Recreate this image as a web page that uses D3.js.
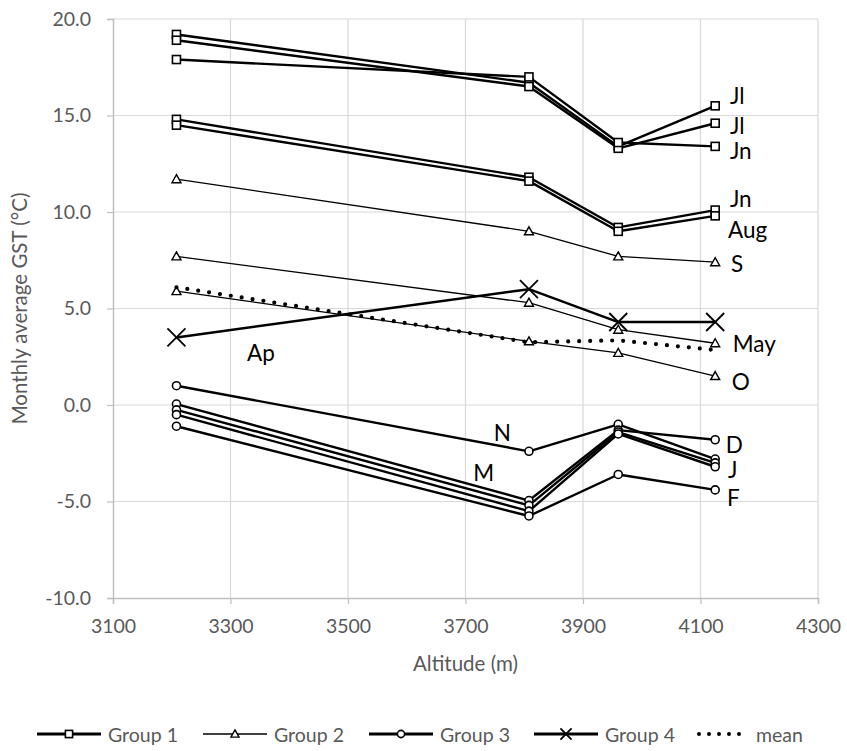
<!DOCTYPE html>
<html><head><meta charset="utf-8">
<script src="https://cdn.jsdelivr.net/npm/d3@7"></script>
<style>body{margin:0;background:#fff} svg{display:block}</style>
</head><body><svg id="c" width="847" height="751"></svg>
<script>
// ---- data ----
const altitudes = [3208, 3808, 3960, 4125];
const xTicks = [3100, 3300, 3500, 3700, 3900, 4100, 4300];
const yTicks = [-10, -5, 0, 5, 10, 15, 20];

const group1Months = ["Jl", "Jl", "Jn", "Jn", "Aug"];
const group1 = [
  [19.2, 16.7, 13.4, 15.5],
  [18.9, 16.5, 13.3, 14.6],
  [17.9, 17.0, 13.6, 13.4],
  [14.8, 11.8, 9.2, 10.1],
  [14.5, 11.6, 9.0, 9.8]
];
const group2Months = ["S", "May", "O"];
const group2 = [
  [11.7, 9.0, 7.7, 7.4],
  [7.7, 5.3, 3.9, 3.2],
  [5.9, 3.3, 2.7, 1.5]
];
const group3Months = ["N", "D", "M", "J", "F"];
const group3 = [
  [1.0, -2.4, -1.0, -2.8],
  [0.05, -4.95, -1.3, -1.8],
  [-0.25, -5.2, -1.4, -3.0],
  [-0.5, -5.5, -1.5, -3.2],
  [-1.1, -5.75, -3.6, -4.4]
];
const group4Months = ["Ap"];
const group4 = [
  [3.5, 6.0, 4.3, 4.3]
];
const meanValues = [6.1, 3.25, 3.35, 2.85];

// annotation text with anchor in data units (altitude, °C)
const annText = ["Jl", "Jl", "Jn", "Jn", "Aug", "S", "May", "O", "Ap", "N", "M", "D", "J", "F"];
const annAlt  = [4150, 4150, 4150, 4150, 4147, 4152, 4155, 4153, 3328, 3748, 3713, 4143, 4147, 4145];
const annVal  = [16.05, 14.5, 13.2, 10.7, 9.1, 7.35, 3.2, 1.2, 2.7, -1.4, -3.5, -2.05, -3.35, -4.8];

const legendNames = ["Group 1", "Group 2", "Group 3", "Group 4", "mean"];

// ---- drawing ----
const svg = d3.select("#c");
const x = d3.scaleLinear().domain([3100, 4300]).range([113, 818]);
const y = d3.scaleLinear().domain([-10, 20]).range([598, 19]);
const grey = "#595959";
const font = "Lato, 'Open Sans', sans-serif";

// gridlines
svg.append("g").selectAll("line").data(yTicks.filter(d => d > -10)).join("line")
  .attr("x1", x(3100)).attr("x2", x(4300)).attr("y1", d => y(d)).attr("y2", d => y(d))
  .attr("stroke", "#d9d9d9").attr("stroke-width", 1.2);
svg.append("g").selectAll("line").data(xTicks.filter(d => d > 3100)).join("line")
  .attr("x1", d => x(d)).attr("x2", d => x(d)).attr("y1", y(-10)).attr("y2", y(20))
  .attr("stroke", "#d9d9d9").attr("stroke-width", 1.2);

// axes
const xAxis = svg.append("g").attr("transform", `translate(0,${y(-10)})`)
  .call(d3.axisBottom(x).tickValues(xTicks).tickSize(6).tickPadding(15).tickFormat(d3.format("d")));
const yAxis = svg.append("g").attr("transform", `translate(${x(3100)},0)`)
  .call(d3.axisLeft(y).tickValues(yTicks).tickSize(6).tickPadding(16).tickFormat(d3.format(".1f")));
[xAxis, yAxis].forEach(g => {
  g.select(".domain").attr("stroke", "#bfbfbf").attr("stroke-width", 1.5);
  g.selectAll(".tick line").attr("stroke", "#bfbfbf").attr("stroke-width", 1.2);
  g.selectAll(".tick text").attr("fill", grey).attr("font-family", font).attr("font-size", 19.5);
});
yAxis.selectAll(".tick text").text(d => d3.format(".1f")(d).replace("−", "-"));

// titles
svg.append("text").attr("x", (x(3100) + x(4300)) / 2).attr("y", 671)
  .attr("text-anchor", "middle").attr("fill", grey).attr("font-family", font).attr("font-size", 20.5)
  .text("Altitude (m)");
svg.append("text").attr("transform", `translate(27,${(y(-10) + y(20)) / 2}) rotate(-90)`)
  .attr("text-anchor", "middle").attr("fill", grey).attr("font-family", font).attr("font-size", 20.5)
  .text("Monthly average GST (°C)");

const line = d3.line().x((d, i) => x(altitudes[i])).y(d => y(d));

// marker drawing
function marker(g, type, cx, cy, s) {
  s = s || 1;
  if (type === "square") {
    g.append("rect").attr("x", cx - 4 * s).attr("y", cy - 4 * s).attr("width", 8 * s).attr("height", 8 * s)
      .attr("fill", "#fff").attr("stroke", "#000").attr("stroke-width", 1.6);
  } else if (type === "triangle") {
    g.append("path").attr("d", `M${cx},${cy - 4.5 * s}L${cx + 4.5 * s},${cy + 3.5 * s}L${cx - 4.5 * s},${cy + 3.5 * s}Z`)
      .attr("fill", "#fff").attr("stroke", "#000").attr("stroke-width", 1.4);
  } else if (type === "circle") {
    g.append("circle").attr("cx", cx).attr("cy", cy).attr("r", 4 * s)
      .attr("fill", "#fff").attr("stroke", "#000").attr("stroke-width", 1.6);
  } else if (type === "cross") {
    const r = 9 * s;
    g.append("path").attr("d", `M${cx - r},${cy - r}L${cx + r},${cy + r}M${cx - r},${cy + r}L${cx + r},${cy - r}`)
      .attr("fill", "none").attr("stroke", "#000").attr("stroke-width", 1.8);
  }
}

function drawGroup(data, type, width) {
  const g = svg.append("g");
  data.forEach(s => {
    g.append("path").attr("d", line(s)).attr("fill", "none").attr("stroke", "#000")
      .attr("stroke-width", width).attr("stroke-linejoin", "round");
  });
  data.forEach(s => s.forEach((v, i) => marker(g, type, x(altitudes[i]), y(v))));
}

drawGroup(group2, "triangle", 1.3);
drawGroup(group3, "circle", 2.4);
drawGroup(group1, "square", 2.4);
drawGroup(group4, "cross", 2.4);

// mean dotted
svg.append("path").attr("d", line(meanValues)).attr("fill", "none").attr("stroke", "#000")
  .attr("stroke-width", 4.2).attr("stroke-linecap", "round").attr("stroke-dasharray", "0 11");

// annotations
svg.append("g").selectAll("text").data(annText).join("text")
  .attr("x", (d, i) => x(annAlt[i])).attr("y", (d, i) => y(annVal[i]))
  .attr("dominant-baseline", "central").attr("font-family", font).attr("font-size", 22.5)
  .attr("fill", "#000").text(d => d);

// legend
const legendX = [37, 203, 369, 534, 697];
const legendTypes = ["square", "triangle", "circle", "cross", "dots"];
const legendWidths = [3, 1.5, 3, 3, 4];
const ly = 734;
const lg = svg.append("g");
legendNames.forEach((name, i) => {
  const x0 = legendX[i];
  if (legendTypes[i] === "dots") {
    lg.append("line").attr("x1", x0 + 2).attr("x2", x0 + 52).attr("y1", ly).attr("y2", ly)
      .attr("stroke", "#000").attr("stroke-width", 4).attr("stroke-linecap", "round")
      .attr("stroke-dasharray", "0 10");
    lg.append("text").attr("x", x0 + 59).attr("y", ly).attr("dominant-baseline", "central")
      .attr("font-family", font).attr("font-size", 19.5).attr("fill", grey).text(name);
  } else {
    lg.append("line").attr("x1", x0).attr("x2", x0 + 64).attr("y1", ly).attr("y2", ly)
      .attr("stroke", "#000").attr("stroke-width", legendWidths[i]);
    marker(lg, legendTypes[i], x0 + 32, ly, legendTypes[i] === "cross" ? 0.62 : 0.9);
    lg.append("text").attr("x", x0 + 71).attr("y", ly).attr("dominant-baseline", "central")
      .attr("font-family", font).attr("font-size", 19.5).attr("fill", grey).text(name);
  }
});
</script>
</body></html>
